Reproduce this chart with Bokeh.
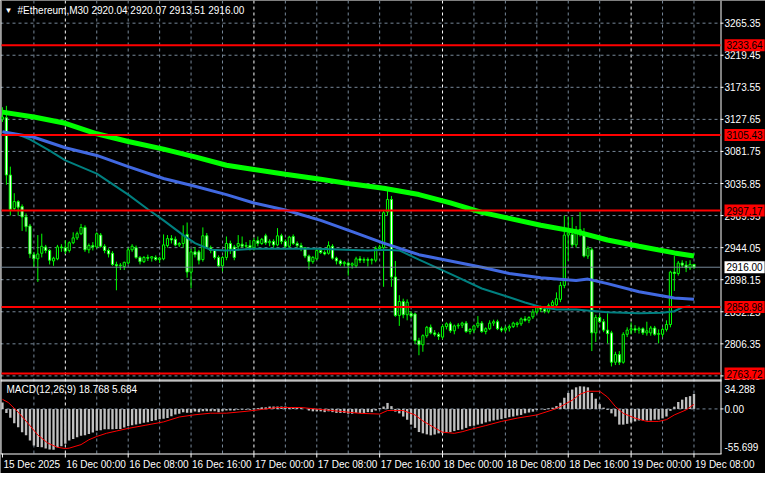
from bokeh.plotting import figure
from bokeh.models import Range1d, Label, ColumnDataSource
from bokeh.core.properties import value
from bokeh.embed import file_html
from bokeh.resources import INLINE

# ---------------- data ----------------
title_text = "#Ethereum,M30  2920.04 2920.07 2913.51 2916.00"
macd_text = "MACD(12,26,9) 18.768 5.684"

opens = [3128,3130,3048,3000,3010,3003,2988,2975,2934,2928,
         2936,2945,2940,2925,2928,2945,2944,2940,2951,2958,
         2964,2973,2941,2947,2945,2962,2946,2940,2936,2920,
         2918,2917,2922,2941,2944,2930,2924,2930,2929,2930,
         2927,2928,2947,2957,2956,2948,2950,2963,2909,2938,
         2938,2927,2961,2944,2940,2930,2918,2930,2950,2945,
         2946,2949,2946,2947,2944,2954,2950,2961,2951,2953,
         2948,2961,2953,2946,2960,2950,2947,2944,2932,2924,
         2928,2940,2937,2936,2946,2929,2925,2921,2922,2919,
         2918,2928,2926,2927,2926,2926,2943,2944,2995,3013,
         2902,2847,2867,2848,2850,2849,2811,2805,2818,2830,
         2822,2820,2816,2831,2835,2825,2832,2833,2836,2824,
         2826,2832,2836,2824,2828,2836,2838,2828,2826,2829,
         2831,2834,2835,2842,2840,2845,2852,2858,2856,2853,
         2861,2862,2870,2890,2962,2963,2948,2968,2962,2932,
         2941,2822,2844,2838,2826,2822,2780,2791,2780,2820,
         2826,2828,2826,2828,2822,2822,2829,2820,2820,2827,
         2834,2909,2907,2922,2919,2915,2920.04]
highs = [3145,3147,3060,3022,3012,3006,2993,2978,2938,2962,
         2964,2948,2942,2931,2948,2949,2955,2953,2966,2967,
         2978,2976,2950,2952,2966,2965,2949,2943,2939,2924,
         2922,2924,2944,2949,2947,2932,2932,2934,2932,2933,
         2931,2963,2962,2962,2960,2952,2976,2980,2942,2945,
         2941,2973,2965,2947,2942,2933,2932,2960,2954,2948,
         2962,2960,2952,2955,2958,2960,2958,2964,2956,2956,
         2972,2964,2956,2961,2963,2953,2951,2945,2934,2932,
         2942,2944,2940,2953,2949,2931,2927,2925,2924,2923,
         2931,2932,2930,2930,2929,2946,2948,2997,3025,3018,
         2925,2876,2871,2870,2853,2851,2815,2820,2832,2834,
         2826,2823,2834,2837,2838,2834,2836,2838,2839,2829,
         2833,2846,2839,2830,2840,2841,2841,2831,2832,2834,
         2838,2838,2844,2846,2846,2856,2862,2861,2859,2864,
         2869,2880,2895,2990,2988,2988,2975,2995,2972,2946,
         2944,2848,2848,2842,2850,2825,2795,2796,2823,2830,
         2837,2833,2831,2830,2838,2832,2832,2827,2830,2840,
         2911,2932,2925,2926,2925,2926,2920.07]
lows = [3124,3034,2990,2998,2990,2968,2967,2929,2916,2895,
        2930,2936,2920,2918,2926,2938,2935,2937,2949,2955,
        2962,2938,2936,2940,2943,2944,2936,2930,2918,2883,
        2912,2912,2920,2938,2928,2920,2922,2925,2924,2925,
        2922,2926,2944,2950,2946,2945,2944,2901,2886,2930,
        2920,2924,2942,2936,2927,2916,2910,2926,2935,2926,
        2940,2944,2942,2940,2940,2946,2948,2948,2946,2944,
        2946,2949,2942,2944,2948,2944,2939,2929,2913,2921,
        2926,2935,2933,2934,2927,2920,2918,2917,2904,2914,
        2915,2922,2922,2917,2920,2923,2939,2888,2990,2888,
        2845,2832,2843,2840,2843,2806,2790,2795,2815,2820,
        2817,2812,2813,2827,2822,2820,2828,2829,2822,2820,
        2822,2829,2822,2820,2826,2832,2826,2823,2823,2824,
        2829,2830,2832,2838,2836,2842,2849,2852,2850,2850,
        2858,2860,2866,2886,2925,2945,2944,2960,2930,2928,
        2796,2809,2836,2823,2807,2774,2776,2776,2778,2816,
        2820,2822,2821,2819,2818,2818,2818,2807,2816,2824,
        2830,2882,2904,2915,2909,2912,2913.51]
closes = [3131,3048,2999,3010,3002,2988,2974,2935,2928,2935,
          2946,2940,2926,2929,2945,2944,2939,2951,2958,2964,
          2973,2941,2947,2945,2964,2946,2940,2935,2920,2918,
          2919,2923,2941,2946,2930,2924,2930,2929,2931,2927,
          2929,2948,2957,2955,2948,2950,2962,2909,2938,2934,
          2926,2961,2944,2940,2930,2918,2930,2950,2942,2930,
          2950,2946,2947,2944,2954,2950,2956,2951,2953,2948,
          2961,2953,2946,2959,2950,2947,2944,2932,2924,2930,
          2940,2937,2935,2947,2929,2925,2921,2923,2919,2921,
          2928,2926,2927,2926,2927,2943,2945,2994,3013,2902,
          2847,2867,2848,2866,2846,2811,2805,2818,2830,2822,
          2820,2817,2831,2835,2825,2832,2833,2836,2824,2827,
          2832,2836,2824,2828,2836,2838,2828,2826,2829,2831,
          2836,2836,2842,2840,2844,2852,2858,2856,2853,2861,
          2866,2871,2890,2962,2965,2948,2969,2970,2932,2943,
          2822,2844,2838,2826,2821,2780,2791,2780,2820,2826,
          2828,2826,2828,2822,2825,2829,2820,2821,2827,2834,
          2909,2907,2922,2919,2915,2920,2916.00]

# moving averages (bar index, price)
ma_green_x = [0,8,16,24,32,41,49,57,64,72,81,89,97,106,114,122,129,137,146,154,162,171,176]
ma_green_y = [3138,3131,3122,3107,3096,3085,3074,3062,3056,3049,3042,3035,3029,3020,3008,2994.5,
              2986,2976,2967,2955,2946,2936.5,2932]
ma_blue_x = [0,8,16,24,32,41,49,57,64,72,81,89,97,106,114,122,129,137,146,149,154,162,171,176]
ma_blue_y = [3110,3102,3087,3076,3060,3043,3032,3020,3008,2998,2983,2967,2950.5,2934,2925,2916,
             2907,2901,2897,2899,2892.5,2881,2872,2870]
ma_teal_x = [0,4,7,12,16,24,32,37,41,46,49,53,57,64,80,93,97,101,106,114,122,129,133,137,141,
             146,154,162,168,171,173,175]
ma_teal_y = [3110,3106,3099,3083,3069,3050,3020,2999,2983,2962,2950.5,2941,2940,2942.6,2942.6,
             2940,2941,2940,2927,2906.5,2885.6,2873,2865.6,2859,2855.5,2855.5,2851.7,2850,2851,
             2853,2858.6,2860]

macd_hist = [8,-5,-11,-18,-23,-29,-33,-39.5,-45.6,-47.6,
             -48,-49.6,-50.8,-51,-48,-46.5,-43.5,-39.5,-37.5,-35.4,
             -33.4,-33,-31.4,-29.4,-27.3,-26.5,-25.3,-25.3,-25.3,-25,
             -25,-23.3,-21.3,-20.3,-19.3,-18.5,-17.3,-16.5,-15.2,-14.2,
             -13,-12.2,-11.4,-9,-6.9,-6,-4,-4.8,-4.8,-3.2,
             -4,-3,-3,-3,-3,-4,-3,-2,-2,-2,
             -1,-1,-1,-1,0.5,1,2,2,3,3,
             3,3,3,2,2,2,1,0,-2,-3,
             -3,-3,-4,-3,-4,-5,-5,-5,-6,-6,
             -5,-5,-5,-4,-4,-2,1,3,7.5,3.5,
             -3.4,-5.5,-9.5,-13.5,-19.6,-23.7,-28.9,-30.5,-31.8,-33,
             -32,-30.5,-30.5,-28.9,-28.9,-27.7,-26.4,-25.7,-23.7,-21.6,
             -21,-19.6,-18.5,-16.8,-15.6,-14.4,-13.5,-12.7,-11.5,-10.3,
             -9.5,-8.3,-7.5,-5.5,-4.5,-3.4,-1.2,-0.4,-1.2,0.8,
             1.6,3.6,7.7,14,20,24.2,27,28.3,28,27,
             20,12.8,6,1.6,-1.2,-5.5,-9.5,-19.6,-19.6,-18.6,
             -16.8,-15.6,-14.4,-14.4,-14.4,-14.4,-13.4,-13.4,-11.8,-9.5,
             -2.4,2.8,8.7,11.6,14.8,16,18.768]
signal_x = [0,1.5,4,6.5,9,11.5,14,16,17,20,22,24,26.5,29,32,36.5,41,45,49,53,57,62,66,70,76,
            82,86,91,96,98,102,105,107,110,112,115,117,119,123,127,131,136,140,142,145,147,149,
            152,154,156,158,161,164,167,169,171,174,176]
signal_y = [12,8,-4,-18,-32.5,-42.6,-48,-49.5,-49,-44.6,-38.5,-34.4,-30.4,-27.6,-24.3,-20.3,
            -16.2,-10.1,-7.3,-5.3,-5.3,-3,-0.6,1.8,1.8,
            -1.2,-3,-5.5,-6.4,-2,-2,-7.5,-15,-23.7,-29,-30.5,-28.5,-25.7,-20.8,-15.6,-11.5,
            -7.5,-1.2,2.8,10.9,18.4,22.1,22.1,14.8,3,-5.5,-11.5,-15.6,-15.6,-13.4,-7.5,-1.2,5.684]

price_ticks = [3265.35,3219.45,3173.55,3127.65,3081.75,3035.85,2989.95,2944.05,2898.15,
               2852.25,2806.35,2760.45]
red_levels = [3233.64,3105.43,2997.17,2858.98,2763.72]
bid_price = 2916.00
macd_max, macd_min = 34.288, -55.699

time_tick_bars = [0,16,32,48,64,80,96,112,128,144,160,176]
time_labels = ["15 Dec 2025","16 Dec 00:00","16 Dec 08:00","16 Dec 16:00","17 Dec 00:00",
               "17 Dec 08:00","17 Dec 16:00","18 Dec 00:00","18 Dec 08:00","18 Dec 16:00",
               "19 Dec 00:00","19 Dec 08:00"]
grid_bars = [8,16,24,32,40,48,56,64,72,80,88,96,104,112,120,128,136,144,152,160,168,176]
day_sep_bars = [16,64,112,160]

# ---------------- layout (pixels inside the canvas) ----------------
W, H = 765, 473
PANEL_W = 720            # chart panels span x 0..720, labels to the right
MAIN_H = 379             # main panel y 0..379
MACD_T, MACD_B = 381, 453
X0, XP = -0.5, 182.75    # bars visible across the panel width
PRICE_TOP, PRICE_BOT = 3297.8, 2755.3
FONT = "Liberation Sans"
GRID_C = "#778899"

ppb = PANEL_W / (XP - X0)
ppx = (PRICE_TOP - PRICE_BOT) / MAIN_H
mpx = (macd_max - macd_min) / (MACD_B - MACD_T)


def bx(px):
    return X0 + px / ppb


def py(px):
    return PRICE_TOP - px * ppx


def my(px):
    return macd_max - (px - MACD_T) * mpx


p = figure(width=W, height=H, output_backend="svg", toolbar_location=None,
           x_range=Range1d(bx(0), bx(W)), y_range=Range1d(py(H), py(0)),
           x_axis_location=None, y_axis_location=None,
           min_border_left=0, min_border_right=0, min_border_top=0, min_border_bottom=0,
           background_fill_color="black", border_fill_color="black",
           outline_line_color=None)
p.extra_y_ranges = {"macd": Range1d(my(H), my(0))}
p.xgrid.visible = False
p.ygrid.visible = False

# ---- grids ----
grey_bars = [b for b in grid_bars if b not in day_sep_bars]
p.segment(x0=grey_bars, x1=grey_bars, y0=py(0), y1=py(MACD_B), line_color=GRID_C,
          line_dash="3 3", line_width=1)
p.segment(x0=day_sep_bars, x1=day_sep_bars, y0=py(0), y1=py(MACD_B), line_color="white",
          line_dash="3 3", line_width=1)
p.segment(x0=bx(0), x1=bx(PANEL_W), y0=price_ticks, y1=price_ticks, line_color=GRID_C,
          line_dash="3 3", line_width=1)
p.segment(x0=bx(0), x1=bx(PANEL_W), y0=[0], y1=[0], line_color=GRID_C, line_dash="3 3",
          line_width=1, y_range_name="macd")

# ---- panel borders ----
p.segment(x0=[bx(0.5), bx(PANEL_W + 0.5)], x1=[bx(0.5), bx(PANEL_W + 0.5)],
          y0=py(0), y1=py(MACD_B + 0.5), line_color="white", line_width=1)
p.segment(x0=bx(0), x1=bx(PANEL_W + 1),
          y0=[py(MAIN_H + 0.5), py(MACD_T - 0.5), py(MACD_B + 0.5)],
          y1=[py(MAIN_H + 0.5), py(MACD_T - 0.5), py(MACD_B + 0.5)],
          line_color="white", line_width=1)

# ---- candles ----
n = min(len(opens), len(highs), len(lows), len(closes))
xs = list(range(n))
o, h, l, c = opens[:n], highs[:n], lows[:n], closes[:n]
src = ColumnDataSource(dict(
    x=xs, o=o, h=h, l=l, c=c,
    top=[max(a, b) for a, b in zip(o, c)],
    bot=[min(a, b) for a, b in zip(o, c)],
    fill=["black" if cc >= oo else "white" for oo, cc in zip(o, c)],
))
p.segment(x0="x", y0="l", x1="x", y1="h", line_color="#00FF00", line_width=1, source=src)
p.vbar(x="x", top="top", bottom="bot", width=0.55, fill_color="fill",
       line_color="#00FF00", line_width=1, source=src)

# ---- moving averages ----
p.line(ma_teal_x, ma_teal_y, line_color="#008080", line_width=2)
p.line(ma_blue_x, ma_blue_y, line_color="#4169E1", line_width=3)
p.line(ma_green_x, ma_green_y, line_color="#00FF00", line_width=5)

# ---- horizontal levels ----
p.segment(x0=bx(0), x1=bx(PANEL_W), y0=[bid_price], y1=[bid_price], line_color=GRID_C,
          line_width=1)
p.segment(x0=bx(1), x1=bx(PANEL_W), y0=red_levels, y1=red_levels, line_color="#FF0000",
          line_width=2)

# ---- MACD ----
m = len(macd_hist)
p.vbar(x=list(range(m)), top=macd_hist, bottom=0, width=0.6, fill_color="#C0C0C0",
       line_color=None, y_range_name="macd")
p.line(signal_x, signal_y, line_color="#FF0000", line_width=1, y_range_name="macd")

# ---- price scale (right) ----
p.segment(x0=bx(PANEL_W), x1=bx(PANEL_W + 3), y0=price_ticks, y1=price_ticks,
          line_color="white", line_width=1)
p.text(x=bx(PANEL_W + 4), y=price_ticks, text=[f"{t:.2f}" for t in price_ticks],
       text_color="white", text_font=value(FONT), text_font_size="10px",
       text_baseline="middle", text_align="left")

for lv in red_levels:
    p.add_layout(Label(x=bx(PANEL_W + 4), y=lv, text=f"{lv:.2f}", text_color="black",
                       background_fill_color="#FF0000", text_font=FONT, text_font_size="10px",
                       text_baseline="middle", text_align="left", padding=2))
p.add_layout(Label(x=bx(PANEL_W + 4), y=bid_price, text=f"{bid_price:.2f}", text_color="black",
                   background_fill_color="white", text_font=FONT, text_font_size="10px",
                   text_baseline="middle", text_align="left", padding=2))

# ---- MACD scale ----
macd_lab_y = [my(MACD_T + 7), 0.0, my(MACD_B - 7)]
macd_lab_t = [f"{macd_max:.3f}", "0.00", f"{macd_min:.3f}"]
p.segment(x0=bx(PANEL_W), x1=bx(PANEL_W + 3), y0=[0], y1=[0], line_color="white",
          line_width=1, y_range_name="macd")
p.text(x=bx(PANEL_W + 4), y=macd_lab_y, text=macd_lab_t, y_range_name="macd",
       text_color="white", text_font=value(FONT), text_font_size="10px",
       text_baseline="middle", text_align="left")

# ---- time scale ----
p.segment(x0=time_tick_bars, x1=time_tick_bars, y0=py(MACD_B), y1=py(MACD_B + 4),
          line_color="white", line_width=1)
p.text(x=time_tick_bars, y=py(MACD_B + 11), text=time_labels, x_offset=1,
       text_color="white", text_font=value(FONT), text_font_size="10px",
       text_baseline="middle", text_align="left")

# ---- titles ----
p.add_layout(Label(x=bx(4), y=py(10), text="\u25bc", text_color="white", text_font=FONT,
                   text_font_size="8px", text_baseline="middle", text_align="left"))
p.add_layout(Label(x=bx(17), y=py(10), text=title_text, text_color="white", text_font=FONT,
                   text_font_size="10px", text_baseline="middle", text_align="left"))
p.add_layout(Label(x=bx(6), y=my(MACD_T + 8), y_range_name="macd", text=macd_text,
                   text_color="white", text_font=FONT, text_font_size="10px",
                   text_baseline="middle", text_align="left"))

open("out.html", "w").write(file_html(p, INLINE))
